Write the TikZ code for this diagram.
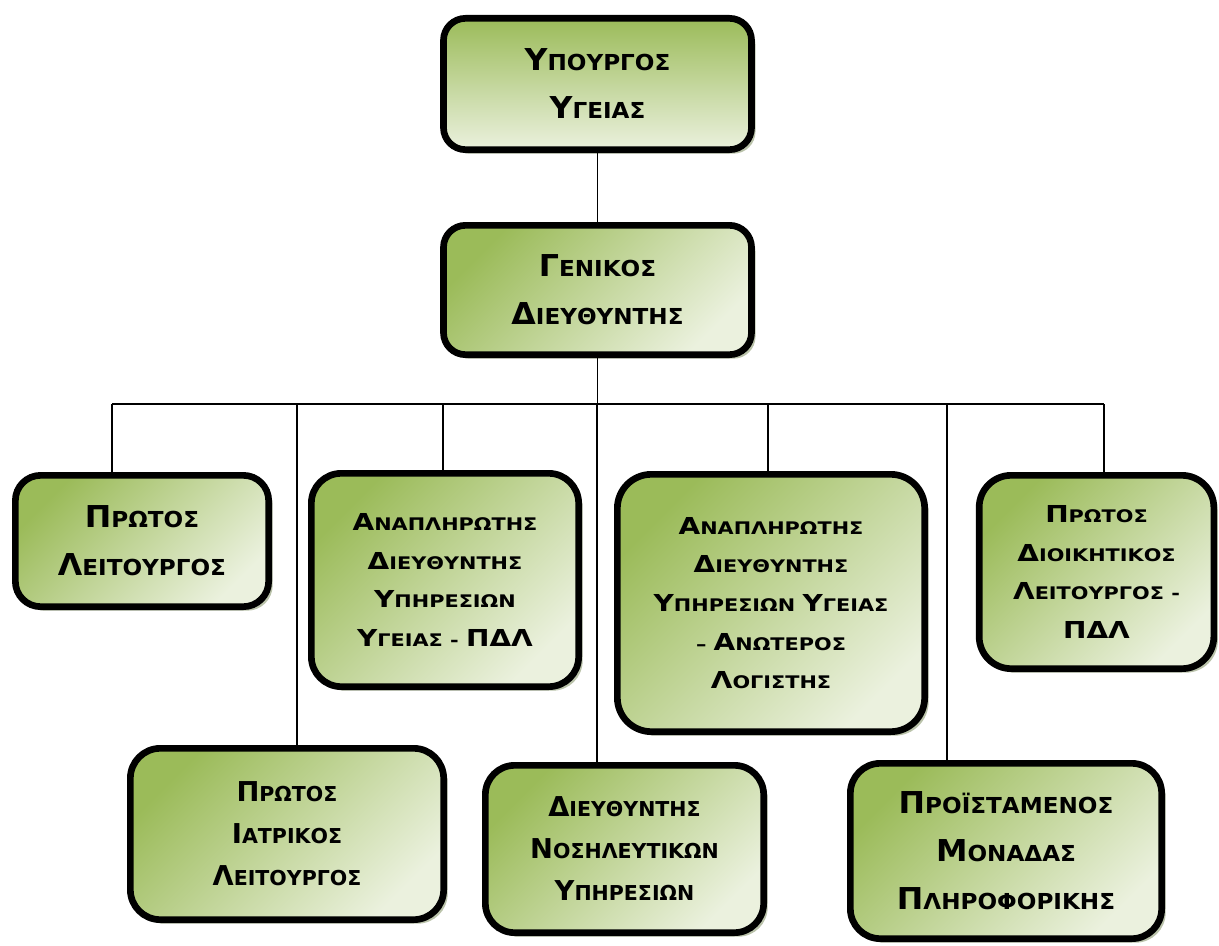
\documentclass[tikz,border=0pt]{standalone}
\usepackage{fontspec}
\setmainfont{DejaVu Sans}
\newfontfamily\fontA[FakeStretch=1.05]{DejaVu Sans}
\newfontfamily\fontB{DejaVu Sans}
\newfontfamily\fontC[FakeStretch=1.2]{DejaVu Sans}
\usetikzlibrary{shadows}
\definecolor{gA}{RGB}{155,187,89}
\definecolor{gB}{RGB}{235,241,222}
\definecolor{shd}{RGB}{130,145,100}
\newcommand\scw[2]{{\fontsize{\capsize}{\linesp}\selectfont #1}#2}
\tikzset{
  box/.style={draw=black, line width=5pt, align=center, inner sep=0pt,
    drop shadow={shadow xshift=3pt, shadow yshift=-3pt, fill=shd, opacity=0.55},
    top color=gA, bottom color=gB, shading angle=45},
  rc/.style={rounded corners=#1},
  sizeA/.style={font={\fontA\bfseries\def\capsize{22.6pt}\def\linesp{36pt}\fontsize{16.5pt}{36pt}\selectfont}},
  sizeB/.style={font={\fontB\bfseries\def\capsize{20.5pt}\def\linesp{31.5pt}\fontsize{15.4pt}{31.5pt}\selectfont}},
  sizeC/.style={font={\fontC\bfseries\def\capsize{17.5pt}\def\linesp{29pt}\fontsize{13pt}{29pt}\selectfont}},
  conn/.style={draw=black, line width=1.2pt}
}
\begin{document}
\begin{tikzpicture}[x=0.75pt, y=-0.75pt]
\useasboundingbox (0,0) rectangle (1219,945);

\node[box, rc=16.5pt, top color=gA, bottom color=gB, shading angle=0, sizeA,
  minimum width=231pt, minimum height=98.5pt] (b1) at (597.5,84)
  {\scw{Υ}{ΠΟΥΡΓΟΣ}\\\scw{Υ}{ΓΕΙΑΣ}};

\node[box, rc=16.5pt, sizeA, minimum width=231pt, minimum height=97pt] (b2) at (597.5,290)
  {\scw{Γ}{ΕΝΙΚΟΣ}\\\scw{Δ}{ΙΕΥΘΥΝΤΗΣ}};

\node[box, rc=19pt, sizeA, minimum width=190pt, minimum height=98.5pt] (b3) at (142,541)
  {\scw{Π}{ΡΩΤΟΣ}\\\scw{Λ}{ΕΙΤΟΥΡΓΟΣ}};

\node[box, rc=22.5pt, sizeC, minimum width=200.5pt, minimum height=160pt] (b4) at (445,580)
  {\scw{Α}{ΝΑΠΛΗΡΩΤΗΣ}\\\scw{Δ}{ΙΕΥΘΥΝΤΗΣ}\\\scw{Υ}{ΠΗΡΕΣΙΩΝ}\\\scw{Υ}{ΓΕΙΑΣ - }\scw{ΠΔΛ}{}};

\node[box, rc=25.5pt, sizeC, minimum width=230.5pt, minimum height=193pt] (b5) at (771,603)
  {\scw{Α}{ΝΑΠΛΗΡΩΤΗΣ}\\\scw{Δ}{ΙΕΥΘΥΝΤΗΣ}\\\scw{Υ}{ΠΗΡΕΣΙΩΝ }\scw{Υ}{ΓΕΙΑΣ}\\– \scw{Α}{ΝΩΤΕΡΟΣ}\\\scw{Λ}{ΟΓΙΣΤΗΣ}};

\node[box, rc=24pt, sizeC, minimum width=176pt, minimum height=145pt] (b6) at (1096.5,572)
  {\scw{Π}{ΡΩΤΟΣ}\\\scw{Δ}{ΙΟΙΚΗΤΙΚΟΣ}\\\scw{Λ}{ΕΙΤΟΥΡΓΟΣ -}\\\scw{ΠΔΛ}{}};

\node[box, rc=22.5pt, sizeB, minimum width=235pt, minimum height=128.5pt] (b7) at (287,834)
  {\scw{Π}{ΡΩΤΟΣ}\\\scw{Ι}{ΑΤΡΙΚΟΣ}\\\scw{Λ}{ΕΙΤΟΥΡΓΟΣ}};

\node[box, rc=22pt, sizeB, minimum width=208.75pt, minimum height=125.5pt] (b8) at (624.5,849)
  {\scw{Δ}{ΙΕΥΘΥΝΤΗΣ}\\\scw{Ν}{ΟΣΗΛΕΥΤΙΚΩΝ}\\\scw{Υ}{ΠΗΡΕΣΙΩΝ}};

\node[box, rc=22.5pt, sizeA, minimum width=233.5pt, minimum height=131.5pt] (b9) at (1006,851)
  {\scw{Π}{ΡΟΪΣΤΑΜΕΝΟΣ}\\\scw{Μ}{ΟΝΑΔΑΣ}\\\scw{Π}{ΛΗΡΟΦΟΡΙΚΗΣ}};

% bus and junctions
\coordinate (jl) at (112,404);
\coordinate (jr) at (1104,404);
\coordinate (j7) at (297,404);
\coordinate (j4) at (443,404);
\coordinate (j8) at (597,404);
\coordinate (j5) at (768,404);
\coordinate (j9) at (947,404);

\draw[conn] (b1.south) -- (b2.north);
\draw[conn] (b2.south) -- (b2.south |- jl);
\draw[conn] (jl) -- (jr);
\draw[conn] (jl) -- (jl |- b3.north);
\draw[conn] (j7) -- (j7 |- b7.north);
\draw[conn] (j4) -- (j4 |- b4.north);
\draw[conn] (j8) -- (j8 |- b8.north);
\draw[conn] (j5) -- (j5 |- b5.north);
\draw[conn] (j9) -- (j9 |- b9.north);
\draw[conn] (jr) -- (jr |- b6.north);
\end{tikzpicture}
\end{document}
